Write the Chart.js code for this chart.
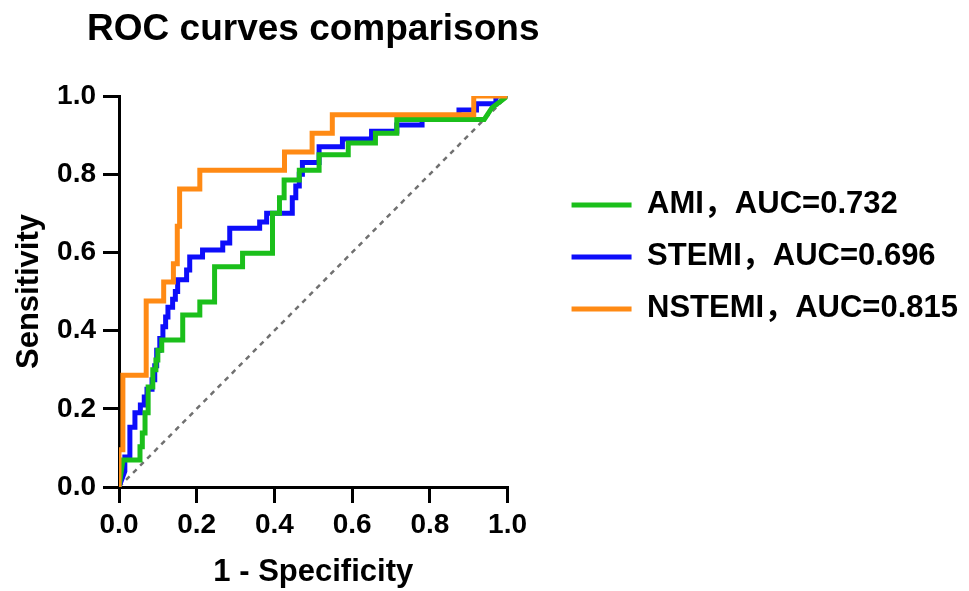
<!DOCTYPE html>
<html>
<head>
<meta charset="utf-8">
<script src="https://cdn.jsdelivr.net/npm/chart.js@4.4.1/dist/chart.umd.min.js"></script>
<style>
  html, body { margin: 0; padding: 0; background: #fff; }
  #wrap { width: 969px; height: 591px; }
</style>
</head>
<body>
<div id="wrap"><canvas id="roc" width="969" height="591"></canvas></div>
<script>
// --- ROC 曲線數據 (1 - specificity, sensitivity) ---
const seriesLabels = ['AMI，AUC=0.732', 'STEMI，AUC=0.696', 'NSTEMI，AUC=0.815'];
const seriesColors = ['#1bbf1b', '#0d0dfa', '#ff8a14'];

const amiFpr = [0, 0.01, 0.054, 0.054, 0.06, 0.06, 0.067, 0.067, 0.075, 0.075, 0.087, 0.087, 0.095, 0.095, 0.10, 0.10, 0.11, 0.11, 0.164, 0.164, 0.208, 0.208, 0.246, 0.246, 0.318, 0.318, 0.395, 0.395, 0.413, 0.413, 0.425, 0.425, 0.464, 0.464, 0.515, 0.515, 0.59, 0.59, 0.66, 0.66, 0.715, 0.715, 0.94, 0.96, 1.0];
const amiTpr = [0, 0.069, 0.069, 0.103, 0.103, 0.138, 0.138, 0.19, 0.19, 0.256, 0.256, 0.30, 0.30, 0.325, 0.325, 0.35, 0.35, 0.376, 0.376, 0.44, 0.44, 0.473, 0.473, 0.563, 0.563, 0.598, 0.598, 0.70, 0.70, 0.74, 0.74, 0.785, 0.785, 0.81, 0.81, 0.85, 0.85, 0.88, 0.88, 0.905, 0.905, 0.94, 0.94, 0.97, 1.0];

const stemiFpr = [0, 0.015, 0.015, 0.028, 0.028, 0.041, 0.041, 0.055, 0.055, 0.065, 0.065, 0.072, 0.072, 0.085, 0.085, 0.092, 0.092, 0.097, 0.097, 0.105, 0.105, 0.113, 0.113, 0.12, 0.12, 0.126, 0.126, 0.138, 0.138, 0.145, 0.145, 0.151, 0.151, 0.174, 0.174, 0.182, 0.182, 0.215, 0.215, 0.267, 0.267, 0.285, 0.285, 0.362, 0.362, 0.38, 0.38, 0.446, 0.446, 0.455, 0.455, 0.464, 0.464, 0.472, 0.472, 0.515, 0.515, 0.575, 0.575, 0.65, 0.65, 0.715, 0.715, 0.78, 0.78, 0.875, 0.875, 0.92, 0.92, 0.97, 0.97, 1.0];
const stemiTpr = [0, 0.04, 0.077, 0.077, 0.153, 0.153, 0.19, 0.19, 0.21, 0.21, 0.23, 0.23, 0.25, 0.25, 0.274, 0.274, 0.31, 0.31, 0.35, 0.35, 0.38, 0.38, 0.41, 0.41, 0.435, 0.435, 0.46, 0.46, 0.48, 0.48, 0.50, 0.50, 0.53, 0.53, 0.555, 0.555, 0.588, 0.588, 0.606, 0.606, 0.624, 0.624, 0.662, 0.662, 0.678, 0.678, 0.70, 0.70, 0.74, 0.74, 0.77, 0.77, 0.80, 0.80, 0.83, 0.83, 0.87, 0.87, 0.89, 0.89, 0.91, 0.91, 0.926, 0.926, 0.94, 0.94, 0.964, 0.964, 0.98, 0.98, 1.0, 1.0];

const nstemiFpr = [0, 0, 0.01, 0.01, 0.07, 0.07, 0.115, 0.115, 0.14, 0.14, 0.15, 0.15, 0.156, 0.156, 0.208, 0.208, 0.426, 0.426, 0.497, 0.497, 0.549, 0.549, 0.913, 0.913, 1.0];
const nstemiTpr = [0, 0.095, 0.095, 0.286, 0.286, 0.476, 0.476, 0.524, 0.524, 0.571, 0.571, 0.667, 0.667, 0.762, 0.762, 0.81, 0.81, 0.857, 0.857, 0.905, 0.905, 0.952, 0.952, 1.0, 1.0];

// 參考對角線
const diagFpr = [0, 1];
const diagTpr = [0, 1];

const xTicks = [0, 0.2, 0.4, 0.6, 0.8, 1.0];

const toPoints = (xs, ys) => xs.map((x, i) => ({ x: x, y: ys[i] }));

const FONT = "'Liberation Sans', Arial, 'Noto Sans CJK SC', sans-serif";

const curve = (i, xs, ys, order) => ({
    label: seriesLabels[i],
    data: toPoints(xs, ys),
    borderColor: seriesColors[i],
    backgroundColor: seriesColors[i],
    borderWidth: 5,
    borderJoinStyle: 'miter',
    pointRadius: 0,
    showLine: true,
    tension: 0,
    order: order
});

// 標題置中於繪圖區上方，但不壓縮文字寬度
const wideTitle = {
    id: 'wideTitle',
    afterLayout(chart) {
        const t = chart.titleBlock;
        const cx = (chart.chartArea.left + chart.chartArea.right) / 2;
        t.left = cx - 260;
        t.right = cx + 260;
        t.width = 520;
    }
};

const ctx = document.getElementById('roc').getContext('2d');
new Chart(ctx, {
    type: 'scatter',
    data: {
        datasets: [
            curve(0, amiFpr, amiTpr, 2),
            curve(1, stemiFpr, stemiTpr, 3),
            curve(2, nstemiFpr, nstemiTpr, 1),
            {
                label: 'diag',
                data: toPoints(diagFpr, diagTpr),
                borderColor: '#707070',
                borderWidth: 2.5,
                borderDash: [5, 5],
                pointRadius: 0,
                showLine: true,
                order: 4
            }
        ]
    },
    plugins: [wideTitle],
    options: {
        responsive: false,
        animation: false,
        events: [],
        layout: { padding: { top: 0, left: 0, bottom: 0, right: 1 } },
        scales: {
            x: {
                type: 'linear',
                min: 0, max: 1,
                afterBuildTicks: s => { s.ticks = xTicks.map(v => ({ value: v })); },
                afterFit: s => { s.height = 104; },
                grid: { display: true, drawOnChartArea: false, drawTicks: true, tickLength: 16, color: '#000', lineWidth: 3 },
                border: { display: true, color: '#000', width: 3 },
                ticks: {
                    padding: 5,
                    color: '#000',
                    font: { family: FONT, size: 28, weight: 'bold' },
                    callback: v => Number(v).toFixed(1)
                },
                title: {
                    display: true,
                    text: '1 - Specificity',
                    color: '#000',
                    font: { family: FONT, size: 31, weight: 'bold', lineHeight: 1.2 },
                    padding: { top: 0, bottom: 0 }
                }
            },
            y: {
                type: 'linear',
                min: 0, max: 1,
                afterBuildTicks: s => { s.ticks = xTicks.map(v => ({ value: v })); },
                afterFit: s => { s.width = 119; },
                grid: { display: true, drawOnChartArea: false, drawTicks: true, tickLength: 16, color: '#000', lineWidth: 3 },
                border: { display: true, color: '#000', width: 3 },
                ticks: {
                    padding: 7,
                    color: '#000',
                    font: { family: FONT, size: 28, weight: 'bold' },
                    callback: v => Number(v).toFixed(1)
                },
                title: {
                    display: true,
                    text: 'Sensitivity',
                    color: '#000',
                    font: { family: FONT, size: 31, weight: 'bold', lineHeight: 1.2 },
                    padding: { top: 11, bottom: 0 }
                }
            },
            // 右側留白，讓圖例與繪圖區之間有間距
            spacer: {
                type: 'linear',
                position: 'right',
                display: true,
                grid: { display: false },
                ticks: { display: false },
                border: { display: false },
                afterFit: s => { s.width = 43; }
            }
        },
        plugins: {
            tooltip: { enabled: false },
            title: {
                display: true,
                fullSize: false,
                text: 'ROC curves comparisons',
                color: '#000',
                font: { family: FONT, size: 37, weight: 'bold', lineHeight: 1.2 },
                padding: { top: 8, bottom: 43.6 }
            },
            legend: {
                display: true,
                position: 'right',
                align: 'start',
                maxWidth: 430,
                title: { display: true, text: '', padding: { top: 0, bottom: 154 } },
                labels: {
                    boxWidth: 60,
                    boxHeight: 5,
                    padding: 21,
                    color: '#000',
                    font: { family: FONT, size: 31, weight: 'bold' },
                    generateLabels: chart => chart.data.datasets.slice(0, 3).map((ds, i) => ({
                        text: ds.label,
                        fillStyle: ds.borderColor,
                        strokeStyle: ds.borderColor,
                        lineWidth: 0,
                        hidden: false,
                        fontColor: '#000',
                        datasetIndex: i
                    }))
                }
            }
        }
    }
});
</script>
</body>
</html>
